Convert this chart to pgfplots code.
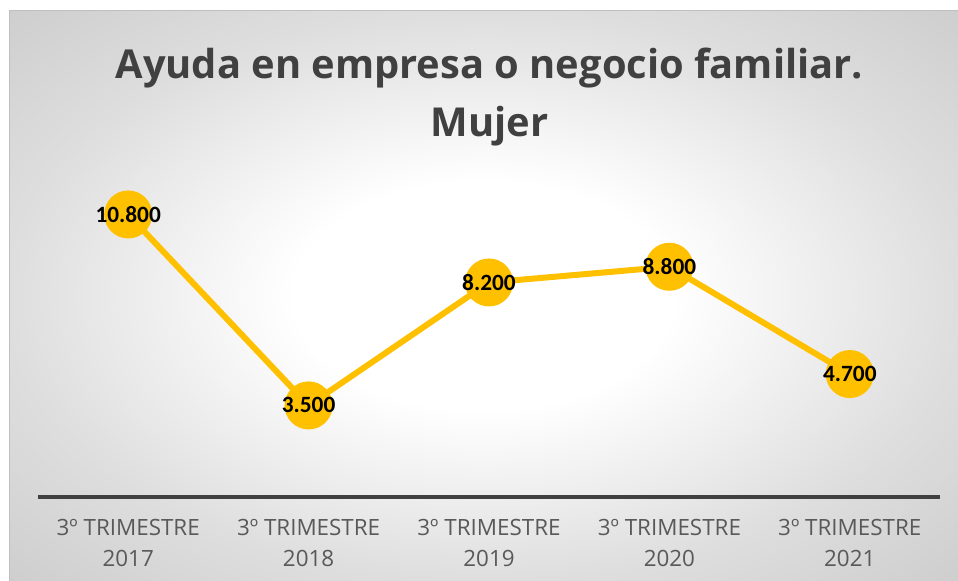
\documentclass[border=0pt]{standalone}
\usepackage{pgfplots}
\pgfplotsset{compat=1.18}
\usepackage{fontspec}
\setmainfont{Open Sans}
\newfontfamily\carlito{Carlito}
\definecolor{lineyel}{HTML}{FFC000}
\definecolor{axgray}{HTML}{404040}
\definecolor{tickgray}{HTML}{595959}
\definecolor{framegray}{HTML}{BFBFBF}
\pgfdeclareradialshading{bgshade}{\pgfpoint{0bp}{0bp}}{%
  color(0bp)=(white); color(10bp)=(white); color(25bp)=(black!13); color(40bp)=(black!22); color(50bp)=(black!24)}
\begin{document}
\begin{tikzpicture}
\path[use as bounding box] (0,0) rectangle (718.5pt,435.75pt);
\fill[white] (0,0) rectangle (718.5pt,435.75pt);
\shade[shading=bgshade] (6.75pt,0) rectangle (718.5pt,427.5pt);
\draw[framegray, line width=0.75pt] (718.5pt,427.5pt) -- (6.75pt,427.5pt) -- (6.75pt,0);
\node[font=\bfseries\fontsize{29.9pt}{36pt}\selectfont, text=axgray] at (367pt,384.75pt) {Ayuda en empresa o negocio familiar.};
\node[font=\bfseries\fontsize{29.9pt}{36pt}\selectfont, text=axgray] at (367pt,341.5pt) {Mujer};
\begin{axis}[
  at={(28.5pt,63pt)}, anchor=south west,
  scale only axis, width=676.5pt, height=274.7pt,
  xmin=-0.5, xmax=4.5, ymin=0, ymax=14000,
  clip=false,
  axis y line=none,
  axis x line*=bottom,
  x axis line style={line width=3pt, color=axgray, -},
  xtick={0,1,2,3,4},
  xticklabels={{3º TRIMESTRE\\2017},{3º TRIMESTRE\\2018},{3º TRIMESTRE\\2019},{3º TRIMESTRE\\2020},{3º TRIMESTRE\\2021}},
  xticklabel style={align=center, font=\fontsize{16.8pt}{23.2pt}\selectfont, text=tickgray, yshift=-13pt},
  xtick style={draw=none},
  /pgf/number format/assume math mode=true,
  nodes near coords={\pgfmathprintnumber[fixed,precision=0,1000 sep={.},assume math mode=true]{\pgfplotspointmeta}},
  every node near coord/.append style={anchor=center, font=\carlito\bfseries\fontsize{17.5pt}{20pt}\selectfont, text=black},
]
\addplot[color=lineyel, line width=4.5pt, mark=*, mark size=15.75pt, mark options={fill=lineyel, draw=none}]
  coordinates {(0,10800) (1,3500) (2,8200) (3,8800) (4,4700)};
\end{axis}
\end{tikzpicture}
\end{document}
